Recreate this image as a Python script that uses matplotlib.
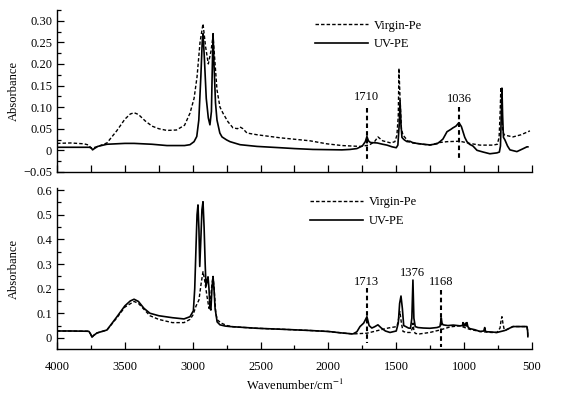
import numpy as np
import matplotlib
matplotlib.use("Agg")
import matplotlib.pyplot as plt
from matplotlib.lines import Line2D
from matplotlib.ticker import MultipleLocator

plt.rcParams['font.family'] = ['Liberation Serif', 'DejaVu Serif']
plt.rcParams['mathtext.fontset'] = 'stix'
plt.rcParams['font.size'] = 9

# ---- top panel: Virgin-Pe (dashed) ----
top_virgin_wn = [4000, 3900, 3800, 3765, 3750, 3730, 3690, 3632, 3560, 3500,
                 3460, 3432, 3400, 3350, 3300, 3250, 3190, 3120, 3060, 3020,
                 2990, 2968, 2946, 2924, 2905, 2885, 2865, 2850, 2835, 2821,
                 2799, 2777, 2740, 2703, 2670, 2651, 2630, 2600, 2526, 2357,
                 2136, 2011, 1900, 1767, 1700, 1660, 1635, 1600, 1540, 1510,
                 1495, 1485, 1480, 1472, 1462, 1450, 1436, 1410, 1377, 1252,
                 1180, 1126, 1031, 960, 883, 787, 755, 742, 734, 729,
                 724, 716, 705, 684, 640, 580, 515]
top_virgin_ab = [0.016, 0.017, 0.015, 0.012, 0.005, 0.006, 0.010, 0.017, 0.045, 0.072,
                 0.084, 0.087, 0.083, 0.068, 0.056, 0.050, 0.046, 0.047, 0.058, 0.086,
                 0.120, 0.170, 0.250, 0.293, 0.240, 0.200, 0.230, 0.265, 0.200, 0.140,
                 0.100, 0.086, 0.066, 0.052, 0.050, 0.054, 0.050, 0.040, 0.036, 0.029,
                 0.022, 0.015, 0.011, 0.009, 0.012, 0.020, 0.031, 0.022, 0.017, 0.020,
                 0.035, 0.080, 0.190, 0.120, 0.050, 0.035, 0.030, 0.020, 0.017, 0.012,
                 0.018, 0.020, 0.021, 0.016, 0.012, 0.012, 0.014, 0.030, 0.090, 0.146,
                 0.100, 0.045, 0.036, 0.034, 0.031, 0.036, 0.045]

# ---- top panel: UV-PE (solid) ----
top_uv_wn = [4000, 3850, 3765, 3748, 3738, 3725, 3700, 3632, 3500, 3432,
             3300, 3190, 3060, 3020, 2990, 2970, 2955, 2940, 2930, 2924,
             2915, 2900, 2885, 2873, 2862, 2855, 2850, 2843, 2832, 2821,
             2800, 2784, 2750, 2725, 2651, 2526, 2357, 2250, 2114, 1900,
             1841, 1790, 1750, 1728, 1716, 1705, 1690, 1640, 1600, 1568,
             1530, 1500, 1488, 1478, 1472, 1465, 1458, 1450, 1440, 1420,
             1400, 1380, 1350, 1300, 1252, 1200, 1178, 1156, 1140, 1126,
             1100, 1082, 1060, 1038, 1020, 1008, 995, 979, 960, 935,
             905, 860, 810, 758, 740, 732, 726, 721, 716, 710,
             699, 680, 662, 611, 570, 537, 530]
top_uv_ab = [0.007, 0.007, 0.007, 0.006, 0.001, 0.004, 0.009, 0.014, 0.016, 0.016,
             0.014, 0.011, 0.011, 0.013, 0.020, 0.032, 0.070, 0.170, 0.250, 0.270,
             0.220, 0.120, 0.075, 0.059, 0.090, 0.200, 0.270, 0.200, 0.110, 0.070,
             0.040, 0.031, 0.024, 0.020, 0.013, 0.009, 0.006, 0.004, 0.002, 0.001,
             0.002, 0.004, 0.010, 0.020, 0.032, 0.022, 0.018, 0.017, 0.014, 0.012,
             0.008, 0.006, 0.012, 0.060, 0.115, 0.060, 0.030, 0.027, 0.024, 0.020,
             0.021, 0.018, 0.016, 0.014, 0.0125, 0.015, 0.020, 0.026, 0.035, 0.043,
             0.048, 0.052, 0.056, 0.064, 0.055, 0.043, 0.030, 0.020, 0.014, 0.010,
             0.000, -0.004, -0.008, -0.006, -0.004, 0.010, 0.080, 0.144, 0.080, 0.030,
             0.024, 0.010, 0.001, -0.003, 0.003, 0.008, 0.008]

# ---- bottom panel: Virgin-Pe (dashed) ----
bot_virgin_wn = [4000, 3775, 3764, 3752, 3742, 3730, 3705, 3632, 3558, 3500,
                 3432, 3400, 3315, 3250, 3150, 3064, 3020, 2998, 2975, 2954,
                 2938, 2924, 2912, 2895, 2880, 2868, 2858, 2850, 2842, 2830,
                 2818, 2790, 2747, 2700, 2526, 2300, 2136, 2000, 1900, 1819,
                 1716, 1620, 1560, 1495, 1485, 1473, 1462, 1450, 1420, 1395,
                 1380, 1376, 1370, 1360, 1330, 1252, 1178, 1100, 1031, 960,
                 883, 800, 758, 735, 728, 721, 714, 705, 690, 640,
                 600, 537, 532, 530]
bot_virgin_ab = [0.028, 0.027, 0.026, 0.015, 0.003, 0.010, 0.020, 0.032, 0.082, 0.125,
                 0.148, 0.140, 0.090, 0.075, 0.062, 0.062, 0.075, 0.093, 0.130, 0.154,
                 0.220, 0.269, 0.235, 0.170, 0.120, 0.160, 0.220, 0.250, 0.200, 0.100,
                 0.073, 0.060, 0.050, 0.045, 0.039, 0.034, 0.030, 0.026, 0.020, 0.016,
                 0.019, 0.032, 0.040, 0.046, 0.070, 0.107, 0.060, 0.026, 0.022, 0.022,
                 0.040, 0.060, 0.030, 0.018, 0.016, 0.022, 0.032, 0.045, 0.049, 0.035,
                 0.026, 0.022, 0.022, 0.040, 0.070, 0.086, 0.060, 0.035, 0.032, 0.046,
                 0.046, 0.046, 0.030, 0.005]

# ---- bottom panel: UV-PE (solid) ----
bot_uv_wn = [4000, 3900, 3775, 3764, 3752, 3742, 3730, 3705, 3632, 3558,
             3500, 3460, 3432, 3400, 3359, 3315, 3250, 3150, 3064, 3020,
             2995, 2985, 2975, 2968, 2961, 2954, 2948, 2940, 2932, 2924,
             2916, 2908, 2902, 2894, 2887, 2880, 2873, 2866, 2858, 2850,
             2843, 2835, 2820, 2799, 2760, 2725, 2526, 2300, 2136, 2000,
             1900, 1819, 1790, 1767, 1740, 1716, 1700, 1680, 1660, 1635,
             1610, 1580, 1546, 1500, 1485, 1475, 1465, 1455, 1445, 1430,
             1410, 1395, 1385, 1377, 1370, 1360, 1340, 1300, 1252, 1200,
             1178, 1172, 1168, 1163, 1155, 1120, 1080, 1031, 1012, 1008,
             1004, 997, 990, 985, 979, 972, 960, 920, 883, 855,
             848, 843, 835, 800, 758, 700, 640, 600, 537, 532, 530]
bot_uv_ab = [0.028, 0.028, 0.027, 0.026, 0.015, 0.003, 0.010, 0.020, 0.032, 0.086,
             0.130, 0.150, 0.157, 0.148, 0.120, 0.100, 0.090, 0.082, 0.077, 0.086,
             0.110, 0.200, 0.380, 0.500, 0.540, 0.440, 0.290, 0.400, 0.520, 0.553,
             0.450, 0.300, 0.210, 0.230, 0.248, 0.200, 0.120, 0.113, 0.200, 0.248,
             0.200, 0.120, 0.065, 0.053, 0.048, 0.046, 0.039, 0.034, 0.030, 0.026,
             0.020, 0.016, 0.025, 0.046, 0.060, 0.086, 0.050, 0.040, 0.045, 0.053,
             0.040, 0.028, 0.022, 0.028, 0.060, 0.140, 0.170, 0.120, 0.050, 0.046,
             0.040, 0.039, 0.080, 0.235, 0.080, 0.046, 0.042, 0.040, 0.039, 0.042,
             0.046, 0.065, 0.080, 0.060, 0.053, 0.050, 0.052, 0.049, 0.050, 0.062,
             0.048, 0.049, 0.060, 0.048, 0.062, 0.045, 0.038, 0.033, 0.026, 0.028,
             0.042, 0.028, 0.025, 0.024, 0.022, 0.030, 0.046, 0.046, 0.046, 0.030, 0.005]

top_marks = [(1716, "1710", 0.124, 0.098, -0.027), (1038, "1036", 0.119, 0.100, -0.022)]
bot_marks = [(1716, "1713", 0.227, 0.203, -0.020), (1168, "1168", 0.227, 0.195, -0.037)]
bot_label_1376 = (1377, "1376", 0.263)

top_yticks = [-0.05, 0, 0.05, 0.10, 0.15, 0.20, 0.25, 0.30]
top_ylabels = ["\u22120.05", "0", "0.05", "0.10", "0.15", "0.20", "0.25", "0.30"]
bot_yticks = [0, 0.1, 0.2, 0.3, 0.4, 0.5, 0.6]
bot_ylabels = ["0", "0.1", "0.2", "0.3", "0.4", "0.5", "0.6"]
xticks = [4000, 3500, 3000, 2500, 2000, 1500, 1000, 500]

fig = plt.figure(figsize=(5.61, 3.97), dpi=100)
ax1 = fig.add_axes([0.1016, 0.567, 0.8466, 0.408])
ax2 = fig.add_axes([0.1016, 0.121, 0.8466, 0.405])

dash = (0, (2.5, 1.5))

def style(ax):
    for s in ['top', 'right']:
        ax.spines[s].set_visible(False)
    for s in ['left', 'bottom']:
        ax.spines[s].set_linewidth(1.0)
    ax.set_xlim(4000, 500)
    ax.tick_params(which='both', direction='in', width=0.9, labelsize=9)
    ax.tick_params(which='major', length=5)
    ax.tick_params(which='minor', length=3)
    ax.set_ylabel("Absorbance", fontsize=9)
    ax.yaxis.set_label_coords(-0.078, 0.5)

style(ax1)
style(ax2)

ax1.plot(top_virgin_wn, top_virgin_ab, color='black', lw=1.0, ls=dash)
ax1.plot(top_uv_wn, top_uv_ab, color='black', lw=1.2)
ax1.set_ylim(-0.05, 0.325)
ax1.set_yticks(top_yticks)
ax1.set_yticklabels(top_ylabels)
ax1.yaxis.set_minor_locator(MultipleLocator(0.025))
ax1.xaxis.set_major_locator(MultipleLocator(250))
ax1.tick_params(axis='x', labelbottom=False, length=5)

ax2.plot(bot_virgin_wn, bot_virgin_ab, color='black', lw=1.0, ls=dash)
ax2.plot(bot_uv_wn, bot_uv_ab, color='black', lw=1.2)
ax2.set_ylim(-0.045, 0.608)
ax2.set_yticks(bot_yticks)
ax2.set_yticklabels(bot_ylabels)
ax2.yaxis.set_minor_locator(MultipleLocator(0.05))
ax2.set_xticks(xticks)
ax2.xaxis.set_minor_locator(MultipleLocator(250))
ax2.tick_params(axis='x', which='major', pad=9)
ax2.set_xlabel("Wavenumber/cm$^{-1}$", fontsize=9, labelpad=3)

for ax, marks in [(ax1, top_marks), (ax2, bot_marks)]:
    for wn, lab, ty, y0, y1 in marks:
        ax.plot([wn, wn], [y0, y1], color='black', lw=1.5, ls=(0, (2.2, 1.5)))
        ax.text(wn, ty, lab, ha='center', va='center', fontsize=9)
wn, lab, ty = bot_label_1376
ax2.text(wn, ty, lab, ha='center', va='center', fontsize=9)

handles = [Line2D([], [], color='black', lw=1.0, ls=dash),
           Line2D([], [], color='black', lw=1.2)]
for ax, anchor in [(ax1, (0.52, 1.01)), (ax2, (0.51, 1.02))]:
    ax.legend(handles, ["Virgin-Pe", "UV-PE"], loc='upper left', bbox_to_anchor=anchor,
              frameon=False, handlelength=4.2, handletextpad=0.5, labelspacing=0.55,
              fontsize=9)

fig.savefig("out.png", dpi=100)
